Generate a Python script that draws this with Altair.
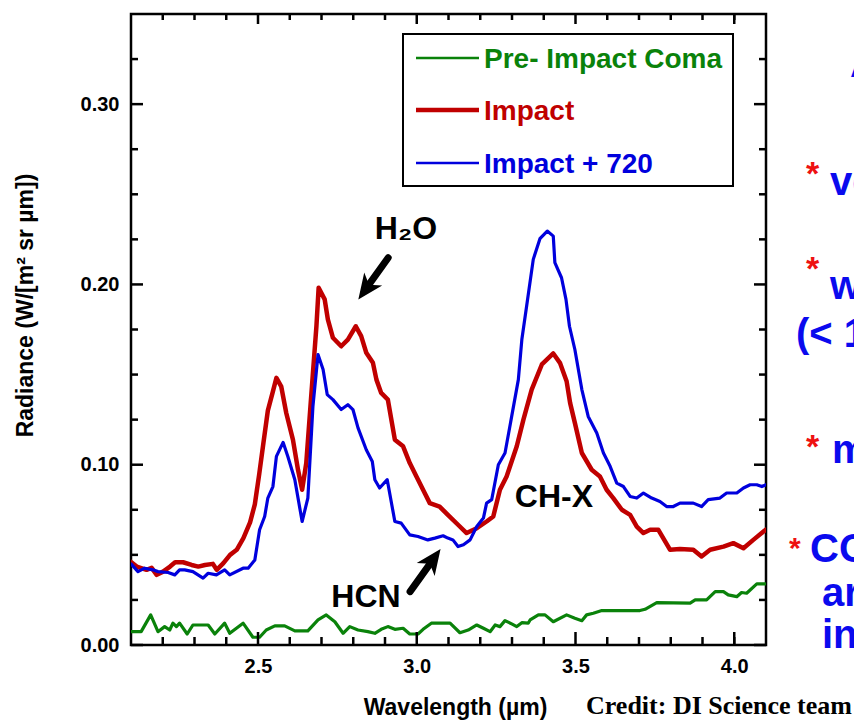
import altair as alt
import pandas as pd

# ---------------- data ----------------
pre_x = [2.100, 2.132, 2.162, 2.185, 2.206, 2.222, 2.232, 2.243, 2.253, 2.277, 2.295, 2.343, 2.364, 2.395,
         2.411, 2.453, 2.484, 2.505, 2.526, 2.553, 2.584, 2.616, 2.657, 2.689, 2.715, 2.742, 2.768, 2.789,
         2.815, 2.846, 2.868, 2.888, 2.909, 2.931, 2.957, 2.978, 3.004, 3.020, 3.046, 3.093, 3.105, 3.136,
         3.162, 3.189, 3.210, 3.231, 3.247, 3.262, 3.278, 3.299, 3.315, 3.331, 3.351, 3.357, 3.383, 3.404,
         3.430, 3.472, 3.498, 3.520, 3.535, 3.556, 3.583, 3.703, 3.719, 3.756, 3.861, 3.877, 3.913, 3.940,
         3.966, 3.981, 4.008, 4.023, 4.039, 4.071, 4.097]
pre_y = [0.0074, 0.0074, 0.0167, 0.0074, 0.0102, 0.0083, 0.0121, 0.0102, 0.0121, 0.0061, 0.0111, 0.0111,
         0.0061, 0.0121, 0.0065, 0.0121, 0.0043, 0.0043, 0.0083, 0.0106, 0.0106, 0.0078, 0.0078, 0.0139,
         0.0167, 0.0129, 0.0065, 0.0102, 0.0083, 0.0074, 0.0065, 0.0087, 0.0102, 0.0087, 0.0093, 0.0061,
         0.0061, 0.0087, 0.0121, 0.0121, 0.0121, 0.0068, 0.0083, 0.0111, 0.0093, 0.0074, 0.0111, 0.0102,
         0.0135, 0.0117, 0.0102, 0.0124, 0.0121, 0.0139, 0.0167, 0.0167, 0.0129, 0.0167, 0.0148, 0.0135,
         0.0167, 0.0176, 0.0191, 0.0191, 0.0198, 0.0235, 0.0232, 0.0250, 0.0250, 0.0296, 0.0296, 0.0278,
         0.0268, 0.0291, 0.0287, 0.0339, 0.0339]

impact_x = [2.100, 2.118, 2.149, 2.165, 2.181, 2.201, 2.223, 2.239, 2.264, 2.291, 2.312, 2.333, 2.358, 2.370,
            2.391, 2.412, 2.433, 2.454, 2.475, 2.490, 2.504, 2.517, 2.531, 2.547, 2.558, 2.573, 2.589, 2.610,
            2.626, 2.639, 2.652, 2.666, 2.684, 2.691, 2.710, 2.720, 2.736, 2.762, 2.783, 2.808, 2.825, 2.841,
            2.862, 2.873, 2.888, 2.909, 2.931, 2.957, 2.978, 2.999, 3.025, 3.041, 3.072, 3.098, 3.130, 3.157,
            3.189, 3.220, 3.241, 3.262, 3.283, 3.315, 3.336, 3.362, 3.394, 3.430, 3.451, 3.472, 3.483, 3.498,
            3.520, 3.551, 3.577, 3.598, 3.619, 3.646, 3.672, 3.693, 3.714, 3.735, 3.761, 3.798, 3.829, 3.871,
            3.897, 3.924, 3.966, 3.997, 4.029, 4.060, 4.092, 4.100]
impact_y = [0.0461, 0.0435, 0.0417, 0.0428, 0.0389, 0.0407, 0.0435, 0.0459, 0.0459, 0.0444, 0.0435, 0.0444,
            0.0450, 0.0417, 0.0454, 0.0500, 0.0528, 0.0593, 0.0680, 0.0780, 0.0950, 0.1120, 0.1300, 0.1407,
            0.1482, 0.1435, 0.1287, 0.1139, 0.0972, 0.0861, 0.1009, 0.1343, 0.1768, 0.1982, 0.1917, 0.1806,
            0.1704, 0.1657, 0.1694, 0.1768, 0.1713, 0.1621, 0.1565, 0.1472, 0.1398, 0.1361, 0.1139, 0.1102,
            0.1009, 0.0935, 0.0843, 0.0787, 0.0768, 0.0722, 0.0667, 0.0621, 0.0648, 0.0685, 0.0713, 0.0861,
            0.0935, 0.1102, 0.1250, 0.1417, 0.1556, 0.1617, 0.1565, 0.1463, 0.1343, 0.1232, 0.1065, 0.0972,
            0.0935, 0.0861, 0.0815, 0.0750, 0.0722, 0.0657, 0.0621, 0.0639, 0.0639, 0.0528, 0.0532, 0.0528,
            0.0491, 0.0528, 0.0546, 0.0565, 0.0537, 0.0583, 0.0629, 0.0640]

later_x = [2.100, 2.122, 2.143, 2.169, 2.185, 2.217, 2.238, 2.253, 2.269, 2.295, 2.327, 2.343, 2.369, 2.395,
           2.411, 2.453, 2.469, 2.490, 2.505, 2.521, 2.531, 2.547, 2.558, 2.579, 2.594, 2.616, 2.639, 2.657,
           2.673, 2.689, 2.705, 2.718, 2.736, 2.762, 2.783, 2.799, 2.815, 2.841, 2.860, 2.868, 2.883, 2.907,
           2.931, 2.951, 2.978, 3.004, 3.035, 3.057, 3.083, 3.098, 3.114, 3.130, 3.147, 3.168, 3.189, 3.210,
           3.220, 3.236, 3.257, 3.278, 3.299, 3.320, 3.331, 3.346, 3.367, 3.388, 3.411, 3.430, 3.435, 3.456,
           3.470, 3.481, 3.498, 3.520, 3.540, 3.567, 3.588, 3.609, 3.630, 3.651, 3.672, 3.693, 3.714, 3.740,
           3.766, 3.787, 3.808, 3.829, 3.871, 3.897, 3.918, 3.955, 3.976, 4.008, 4.029, 4.050, 4.071, 4.087,
           4.100]
later_y = [0.0450, 0.0407, 0.0426, 0.0417, 0.0407, 0.0402, 0.0389, 0.0417, 0.0417, 0.0407, 0.0371, 0.0398,
           0.0389, 0.0417, 0.0389, 0.0426, 0.0426, 0.0472, 0.0639, 0.0713, 0.0815, 0.0879, 0.1046, 0.1124,
           0.1046, 0.0917, 0.0685, 0.0815, 0.1324, 0.1611, 0.1528, 0.1389, 0.1361, 0.1306, 0.1333, 0.1306,
           0.1204, 0.1083, 0.1018, 0.0917, 0.0871, 0.0917, 0.0685, 0.0676, 0.0611, 0.0602, 0.0583, 0.0593,
           0.0606, 0.0593, 0.0583, 0.0546, 0.0556, 0.0583, 0.0657, 0.0704, 0.0787, 0.0806, 0.1000, 0.1065,
           0.1268, 0.1472, 0.1694, 0.1879, 0.2139, 0.2254, 0.2296, 0.2268, 0.2121, 0.2037, 0.1917, 0.1768,
           0.1639, 0.1417, 0.1268, 0.1176, 0.1065, 0.0991, 0.0898, 0.0879, 0.0824, 0.0815, 0.0843, 0.0815,
           0.0796, 0.0768, 0.0768, 0.0787, 0.0787, 0.0768, 0.0806, 0.0815, 0.0843, 0.0843, 0.0871, 0.0889,
           0.0889, 0.0879, 0.0889]

series_names = ["Pre- Impact Coma", "Impact", "Impact + 720"]

x_major = [2.5, 3.0, 3.5, 4.0]
x_minor = [2.2, 2.3, 2.4, 2.6, 2.7, 2.8, 2.9, 3.1, 3.2, 3.3, 3.4, 3.6, 3.7, 3.8, 3.9, 4.0]
y_major = [0.0, 0.1, 0.2, 0.3]
y_minor = [0.025, 0.05, 0.075, 0.125, 0.15, 0.175, 0.225, 0.25, 0.275, 0.325]

label_text = ["H₂O", "HCN", "CH-X"]
label_x = [2.966, 2.840, 3.432]
label_y = [0.225, 0.0209, 0.0768]

arrow_tail_x = [2.910, 2.979]
arrow_tail_y = [0.2148, 0.0296]
arrow_tip_x = [2.816, 3.075]
arrow_tip_y = [0.1917, 0.0532]
arrow_angle = [216, 36]

# ---------------- styles ----------------
W, H = 635, 631
GREEN, RED, BLUE = "#0a820a", "#c00000", "#0000dd"
FONT = "Liberation Sans"

xs = alt.Scale(domain=[2.1, 4.1], nice=False, zero=False)
ys = alt.Scale(domain=[0, 0.35], nice=False, zero=False)
X_AX = alt.Axis(values=x_major, format=".1f", ticks=False, domain=False, grid=False,
                labelFont=FONT, labelFontWeight="bold", labelFontSize=20, labelPadding=11,
                labelColor="black", title="Wavelength (µm)", titleFont=FONT, titleFontWeight="bold",
                titleFontSize=23, titleColor="black", titleX=324, titleY=69, titleBaseline="alphabetic",
                titleAlign="center", titleAnchor=None)
Y_AX = alt.Axis(values=y_major, format=".2f", ticks=False, domain=False, grid=False,
                labelFont=FONT, labelFontWeight="bold", labelFontSize=20, labelPadding=12,
                labelColor="black", title="Radiance (W/[m² sr µm])", titleFont=FONT,
                titleFontWeight="bold", titleFontSize=23, titleColor="black", titleX=-106, titleY=291,
                titleBaseline="middle", titleAlign="center", titleAngle=270)


def xenc(f):
    return alt.X(f, type="quantitative", scale=xs, axis=X_AX)


def yenc(f):
    return alt.Y(f, type="quantitative", scale=ys, axis=Y_AX)


def line(xv, yv, color, width):
    df = pd.DataFrame({"x": xv, "y": yv})
    return alt.Chart(df).mark_line(color=color, strokeWidth=width, strokeJoin="round",
                                   strokeCap="round", clip=True).encode(x=xenc("x"), y=yenc("y"))


layers = []
layers.append(line(pre_x, pre_y, GREEN, 3.2))
layers.append(line(impact_x, impact_y, RED, 4.5))
layers.append(line(later_x, later_y, BLUE, 3.2))


# inward ticks on all four sides
def xticks(vals, length, top):
    df = pd.DataFrame({"v": vals})
    y0, y1 = (0, length) if top else (H, H - length)
    return alt.Chart(df).mark_rule(color="black", strokeWidth=2.5).encode(
        x=xenc("v"), y=alt.value(y0), y2=alt.value(y1))


def yticks(vals, length, right):
    df = pd.DataFrame({"v": vals})
    x0, x1 = (W, W - length) if right else (0, length)
    return alt.Chart(df).mark_rule(color="black", strokeWidth=2.5).encode(
        y=yenc("v"), x=alt.value(x0), x2=alt.value(x1))


layers += [xticks(x_major, 13, False), xticks(x_minor, 8, False),
           xticks(x_major, 10, True), xticks(x_minor, 6, True),
           yticks(y_major, 12, False), yticks(y_minor, 7, False),
           yticks(y_major, 12, True), yticks(y_minor, 7, True)]

# annotations
ann = pd.DataFrame({"t": label_text, "x": label_x, "y": label_y})
layers.append(alt.Chart(ann).mark_text(font=FONT, fontWeight="bold", fontSize=32, color="black",
                                       align="center", baseline="alphabetic").encode(
    x=xenc("x"), y=yenc("y"), text="t:N"))

arr = pd.DataFrame({"x2": arrow_tip_x, "y2": arrow_tip_y})
shaft = pd.DataFrame({"x": arrow_tail_x, "y": arrow_tail_y,
                      "x2": [a + 0.7 * (b - a) for a, b in zip(arrow_tail_x, arrow_tip_x)],
                      "y2": [a + 0.7 * (b - a) for a, b in zip(arrow_tail_y, arrow_tip_y)]})
layers.append(alt.Chart(shaft).mark_rule(color="black", strokeWidth=7, strokeCap="round").encode(
    x=xenc("x"), y=yenc("y"), x2="x2:Q", y2="y2:Q"))
for i in range(2):
    one = arr.iloc[[i]]
    layers.append(alt.Chart(one).mark_point(
        shape="M0,0 L0.7,1.6 L0,1.15 L-0.7,1.6 Z", filled=True, color="black", opacity=1,
        size=1000, angle=arrow_angle[i], strokeWidth=0).encode(x=xenc("x2"), y=yenc("y2")))

# legend box
one_row = pd.DataFrame({"a": [0]})
layers.append(alt.Chart(one_row).mark_rect(fill="white", stroke="black", strokeWidth=2).encode(
    x=alt.value(272), x2=alt.value(602), y=alt.value(20), y2=alt.value(172)))
leg_rows = [(series_names[0], GREEN, 2.5, 44), (series_names[1], RED, 4.5, 96), (series_names[2], BLUE, 2.5, 149)]
for name, col, sw, yy in leg_rows:
    layers.append(alt.Chart(one_row).mark_rule(color=col, strokeWidth=sw).encode(
        x=alt.value(285), x2=alt.value(348), y=alt.value(yy), y2=alt.value(yy)))
    layers.append(alt.Chart(one_row).mark_text(text=name, font=FONT, fontWeight="bold", fontSize=28,
                                               color=col, align="left", baseline="alphabetic").encode(
        x=alt.value(353), y=alt.value(yy + 10)))

# slide text around the chart
credit = "Credit: DI Science team"
layers.append(alt.Chart(one_row).mark_text(text=credit, font="Liberation Serif", fontWeight="bold",
                                           fontSize=26, color="black", align="left",
                                           baseline="alphabetic").encode(
    x=alt.value(455), y=alt.value(700)))

side_blue = [("A", 719, 63), ("ve", 699, 181), ("w", 699, 285), ("(< 1", 665, 333), ("m", 701, 449),
             ("CO", 679, 548), ("ar", 691, 592), ("in", 691, 634)]
for t, xx, yy in side_blue:
    layers.append(alt.Chart(one_row).mark_text(text=t, font=FONT, fontWeight="bold", fontSize=40,
                                               color="#0a0aee", align="left",
                                               baseline="alphabetic").encode(
        x=alt.value(xx), y=alt.value(yy)))
side_red = [("*", 675, 171, 34), ("*", 675, 266, 34), ("*", 675, 444, 34), ("*", 658, 544, 30)]
for t, xx, yy, fs in side_red:
    layers.append(alt.Chart(one_row).mark_text(text=t, font=FONT, fontWeight="bold", fontSize=fs,
                                               color="#ee1111", align="left",
                                               baseline="alphabetic").encode(
        x=alt.value(xx), y=alt.value(yy)))

chart = alt.layer(*layers).properties(
    width=W, height=H,
    padding={"left": 123, "top": 6, "right": 88, "bottom": 75},
    autosize=alt.AutoSizeParams(type="none"),
    background="white",
).configure_view(stroke="black", strokeWidth=2.5)

chart.save("out.html", embed_options={"renderer": "svg", "actions": False})
